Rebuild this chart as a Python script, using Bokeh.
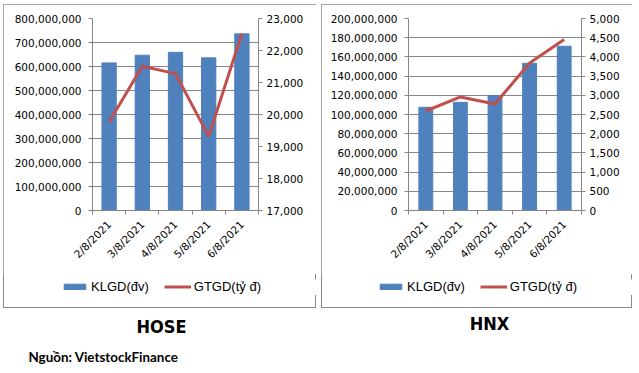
from bokeh.plotting import figure
from bokeh.models import (Range1d, LinearAxis, FixedTicker, SingleIntervalTicker,
                          NumeralTickFormatter, Legend, LegendItem, Label, ColumnDataSource,
                          Spacer)
from bokeh.layouts import column, row
from bokeh.embed import file_html
from bokeh.resources import INLINE

dates = ["2/8/2021", "3/8/2021", "4/8/2021", "5/8/2021", "6/8/2021"]

hose_klgd = [615e6, 647e6, 659e6, 636e6, 736e6]
hose_gtgd = [19765, 21508, 21278, 19317, 22531]

hnx_klgd = [107.5e6, 112.7e6, 119.7e6, 153.4e6, 171.1e6]
hnx_gtgd = [2591, 2957, 2774, 3843, 4452]

legend_labels = ["KLGD(đv)", "GTGD(tỷ đ)"]
titles = ["HOSE", "HNX"]
source_text = "Nguồn: VietstockFinance"

BLUE = "#4F81BD"
RED = "#C0504D"
GREY = "#868686"
TICK_FONT = "DejaVu Sans"
TICK_SIZE = "10.5px"
CHART_H = 270
LEG_H = 16


def make_panel(klgd, gtgd, left_max, left_step, right_min, right_max, right_step,
               width, bw, bl, br, leg_x):
    n = len(dates)
    xs = list(range(1, n + 1))
    p = figure(width=width, height=CHART_H, output_backend="svg", toolbar_location=None,
               x_range=Range1d(0.5, n + 0.5), y_range=Range1d(0, left_max),
               min_border_left=bl, min_border_right=br, min_border_top=14,
               min_border_bottom=CHART_H - 206, outline_line_color=None,
               background_fill_color="white", border_fill_color="white")
    p.extra_y_ranges = {"r": Range1d(right_min, right_max)}

    src = ColumnDataSource(dict(x=xs, klgd=klgd, gtgd=gtgd))
    p.vbar(x="x", top="klgd", width=bw, color=BLUE, source=src)
    p.line(x="x", y="gtgd", y_range_name="r", color=RED, line_width=3, source=src)

    # x axis
    xa = p.xaxis[0]
    xa.ticker = FixedTicker(ticks=xs, minor_ticks=[i + 0.5 for i in range(n + 1)])
    xa.major_label_overrides = {x: d for x, d in zip(xs, dates)}
    xa.major_label_orientation = 0.785398
    xa.major_tick_line_color = None
    xa.minor_tick_out = 4
    xa.minor_tick_in = 0
    xa.minor_tick_line_color = GREY
    xa.axis_line_color = GREY
    xa.major_label_text_font = TICK_FONT
    xa.major_label_text_font_size = TICK_SIZE
    xa.major_label_text_color = "black"
    xa.major_label_standoff = 6
    p.xgrid.visible = False

    # left axis
    ya = p.yaxis[0]
    lt = SingleIntervalTicker(interval=left_step, num_minor_ticks=0)
    ya.ticker = lt
    p.ygrid.ticker = lt
    ya.formatter = NumeralTickFormatter(format="0,0")
    ya.major_tick_out = 4
    ya.major_tick_in = 0
    ya.minor_tick_line_color = None
    ya.major_tick_line_color = GREY
    ya.axis_line_color = GREY
    ya.major_label_text_font = TICK_FONT
    ya.major_label_text_font_size = TICK_SIZE
    ya.major_label_text_color = "black"
    ya.major_label_standoff = 7
    p.ygrid.grid_line_color = GREY

    # right axis
    ra = LinearAxis(y_range_name="r",
                    ticker=SingleIntervalTicker(interval=right_step, num_minor_ticks=0),
                    formatter=NumeralTickFormatter(format="0,0"))
    ra.major_tick_out = 4
    ra.major_tick_in = 0
    ra.minor_tick_line_color = None
    ra.major_tick_line_color = GREY
    ra.axis_line_color = GREY
    ra.major_label_text_font = TICK_FONT
    ra.major_label_text_font_size = TICK_SIZE
    ra.major_label_text_color = "black"
    ra.major_label_standoff = 4
    p.add_layout(ra, "right")

    # legend strip: same series drawn off-view, only the legend is visible
    lw = width - leg_x
    lg = figure(width=lw, height=LEG_H, output_backend="svg", toolbar_location=None,
                x_range=Range1d(-2, -1), y_range=Range1d(-2, -1), min_border=0,
                outline_line_color=None, x_axis_type=None, y_axis_type=None,
                background_fill_color="white", border_fill_color="white")
    lg.grid.visible = False
    lb = lg.vbar(x="x", top="klgd", width=bw, color=BLUE, source=src)
    ll = lg.line(x="x", y="gtgd", color=RED, line_width=3, source=src)
    leg = Legend(items=[LegendItem(label=legend_labels[0], renderers=[lb]),
                        LegendItem(label=legend_labels[1], renderers=[ll])],
                 orientation="horizontal", location="top_left")
    leg.border_line_color = None
    leg.background_fill_alpha = 0
    leg.padding = 0
    leg.margin = 0
    leg.spacing = 15
    leg.glyph_width = 27
    leg.glyph_height = 7
    leg.label_height = 14
    leg.label_standoff = 3
    leg.label_text_font = "Liberation Sans"
    leg.label_text_font_size = "13px"
    leg.label_text_color = "black"
    lg.add_layout(leg)

    col = column(p, Spacer(height=5),
                 row(Spacer(width=leg_x), lg, spacing=0),
                 Spacer(height=304 - CHART_H - 5 - LEG_H), spacing=0)
    col.styles = {"outline": "1px solid #8a8a8a", "outline-offset": "-1px"}
    return col


c1 = make_panel(hose_klgd, hose_gtgd, 8e8, 1e8, 17000, 23000, 1000, 313, 0.43, 89, 58, 58)
c2 = make_panel(hnx_klgd, hnx_gtgd, 2e8, 2e7, 0, 5000, 500, 311, 0.40, 87, 51, 56)

TITLE_FONT = "DejaVu Sans Condensed, Liberation Sans Narrow, Liberation Sans, sans-serif"
p3 = figure(width=629, height=60, output_backend="svg", toolbar_location=None,
            x_range=Range1d(0, 629), y_range=Range1d(0, 60), min_border=0,
            outline_line_color=None, x_axis_type=None, y_axis_type=None,
            border_fill_color="white", background_fill_color="white")
p3.grid.visible = False
p3.add_layout(Label(x=158, y=32, x_units="screen", y_units="screen", text=titles[0],
                    text_align="center", text_font=TITLE_FONT,
                    text_font_style="bold", text_font_size="18px", text_color="black"))
p3.add_layout(Label(x=486, y=35, x_units="screen", y_units="screen", text=titles[1],
                    text_align="center", text_font=TITLE_FONT,
                    text_font_style="bold", text_font_size="18px", text_color="black"))
p3.add_layout(Label(x=25, y=4, x_units="screen", y_units="screen", text=source_text,
                    text_align="left", text_font="Lato", text_font_style="bold",
                    text_font_size="13.4px", text_color="black"))

layout = column(row(c1, c2, spacing=5), p3, margin=(4, 0, 0, 3))

open("out.html", "w").write(file_html(layout, INLINE))
